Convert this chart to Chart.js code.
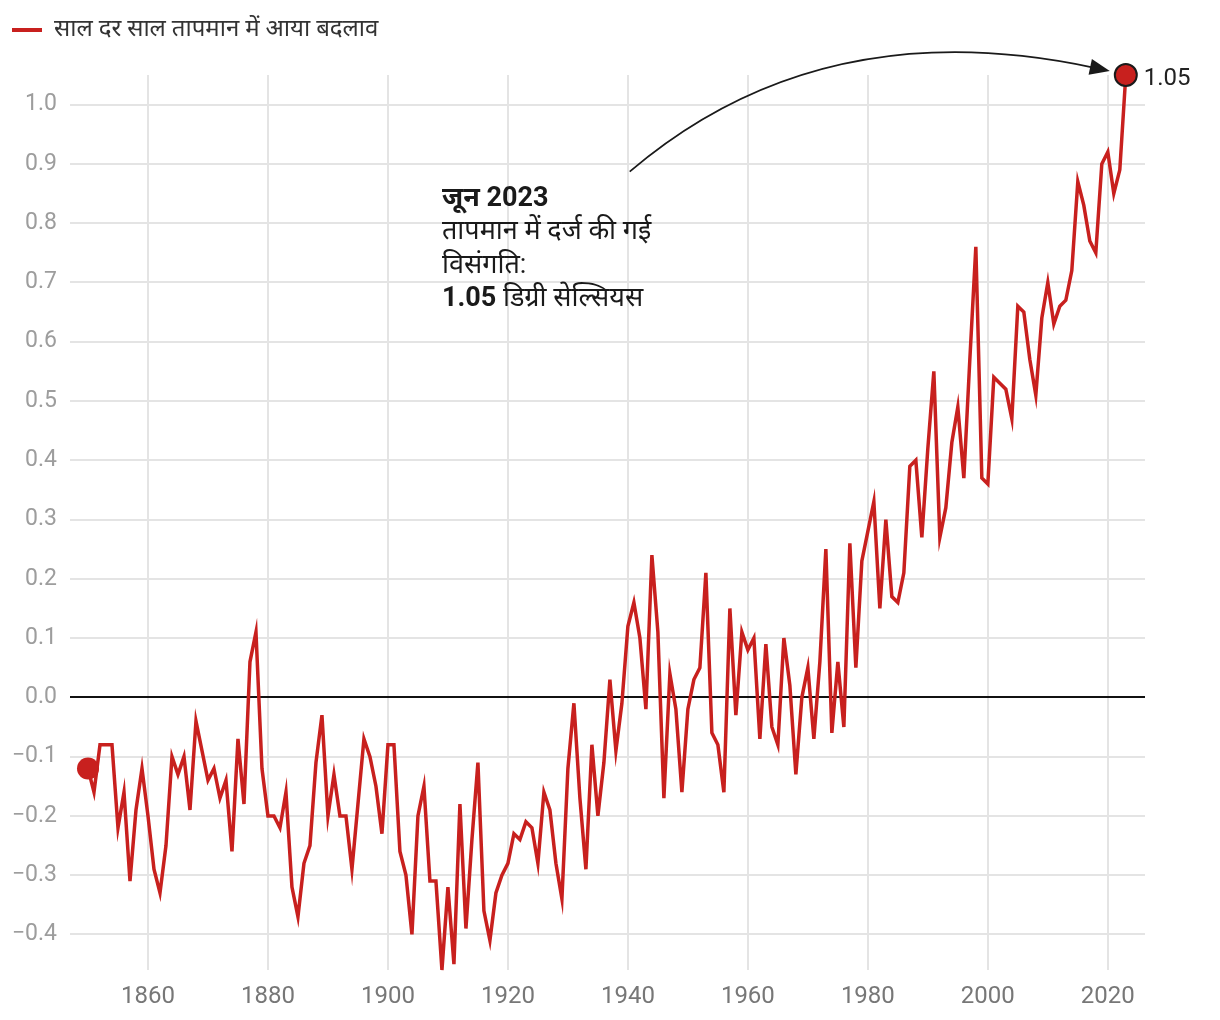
<!DOCTYPE html>
<html>
<head>
<meta charset="utf-8">
<script src="https://cdn.jsdelivr.net/npm/chart.js@4.4.1/dist/chart.umd.min.js"></script>
<style>
html,body{margin:0;padding:0;background:#fff;}
#wrap{width:1220px;height:1020px;position:relative;}
</style>
</head>
<body>
<div id="wrap"><canvas id="c" width="1220" height="1020"></canvas></div>
<script>
// ---------- DATA ----------
const years = [
  1850,1851,1852,1853,1854,1855,1856,1857,1858,1859,
  1860,1861,1862,1863,1864,1865,1866,1867,1868,1869,
  1870,1871,1872,1873,1874,1875,1876,1877,1878,1879,
  1880,1881,1882,1883,1884,1885,1886,1887,1888,1889,
  1890,1891,1892,1893,1894,1895,1896,1897,1898,1899,
  1900,1901,1902,1903,1904,1905,1906,1907,1908,1909,
  1910,1911,1912,1913,1914,1915,1916,1917,1918,1919,
  1920,1921,1922,1923,1924,1925,1926,1927,1928,1929,
  1930,1931,1932,1933,1934,1935,1936,1937,1938,1939,
  1940,1941,1942,1943,1944,1945,1946,1947,1948,1949,
  1950,1951,1952,1953,1954,1955,1956,1957,1958,1959,
  1960,1961,1962,1963,1964,1965,1966,1967,1968,1969,
  1970,1971,1972,1973,1974,1975,1976,1977,1978,1979,
  1980,1981,1982,1983,1984,1985,1986,1987,1988,1989,
  1990,1991,1992,1993,1994,1995,1996,1997,1998,1999,
  2000,2001,2002,2003,2004,2005,2006,2007,2008,2009,
  2010,2011,2012,2013,2014,2015,2016,2017,2018,2019,
  2020,2021,2022,2023
];
const anomaly = [
  -0.12,-0.16,-0.08,-0.08,-0.08,-0.22,-0.16,-0.31,-0.19,-0.12,
  -0.20,-0.29,-0.33,-0.25,-0.10,-0.13,-0.10,-0.19,-0.04,-0.09,
  -0.14,-0.12,-0.17,-0.14,-0.26,-0.07,-0.18, 0.06, 0.11,-0.12,
  -0.20,-0.20,-0.22,-0.16,-0.32,-0.37,-0.28,-0.25,-0.11,-0.03,
  -0.20,-0.13,-0.20,-0.20,-0.29,-0.18,-0.07,-0.10,-0.15,-0.23,
  -0.08,-0.08,-0.26,-0.30,-0.40,-0.20,-0.15,-0.31,-0.31,-0.46,
  -0.32,-0.45,-0.18,-0.39,-0.24,-0.11,-0.36,-0.41,-0.33,-0.30,
  -0.28,-0.23,-0.24,-0.21,-0.22,-0.28,-0.16,-0.19,-0.28,-0.34,
  -0.12,-0.01,-0.17,-0.29,-0.08,-0.20,-0.11, 0.03,-0.09,-0.01,
   0.12, 0.16, 0.10,-0.02, 0.24, 0.11,-0.17, 0.04,-0.02,-0.16,
  -0.02, 0.03, 0.05, 0.21,-0.06,-0.08,-0.16, 0.15,-0.03, 0.11,
   0.08, 0.10,-0.07, 0.09,-0.05,-0.08, 0.10, 0.02,-0.13, 0.00,
   0.05,-0.07, 0.06, 0.25,-0.06, 0.06,-0.05, 0.26, 0.05, 0.23,
   0.28, 0.33, 0.15, 0.30, 0.17, 0.16, 0.21, 0.39, 0.40, 0.27,
   0.42, 0.55, 0.27, 0.32, 0.43, 0.49, 0.37, 0.57, 0.76, 0.37,
   0.36, 0.54, 0.53, 0.52, 0.47, 0.66, 0.65, 0.57, 0.51, 0.64,
   0.70, 0.63, 0.66, 0.67, 0.72, 0.87, 0.83, 0.77, 0.75, 0.90,
   0.92, 0.85, 0.89, 1.05
];
const seriesLabel = 'साल दर साल तापमान में आया बदलाव';
const xTickStep = 20;
const yTickStep = 0.1;
const noteTitle = 'जून 2023';
const noteBody = ['तापमान में दर्ज की गई', 'विसंगति:'];
const noteValue = '1.05';
const noteUnit = ' डिग्री सेल्सियस';

// ---------- STYLE ----------
const FONT = "Roboto, 'Noto Sans', sans-serif";
const RED = '#c8201e';
const GRID = '#e4e4e4';
const last = anomaly.length - 1;

const fixLegendHeight = {
  id: 'fixLegendHeight',
  beforeInit(chart) {
    const lg = chart.legend;
    if (!lg) return;
    const orig = lg.fit.bind(lg);
    lg.fit = function () { orig(); this.height = 69; };
  }
};

const notePlugin = {
  id: 'notePlugin',
  afterDatasetsDraw(chart) {
    const { ctx, scales: { x, y } } = chart;
    const P = (a, b) => [x.getPixelForValue(a), y.getPixelForValue(b)];
    const [ex, ey] = P(years[last], anomaly[last]);
    ctx.save();

    // curved arrow pointing at the latest value
    const [sx, sy] = P(1940.3, 0.887);
    const [cx, cy] = P(1972, 1.1605);
    const tx = ex - 16, ty = ey - 4;
    const ang = Math.atan2(ty - cy, tx - cx);
    const headLen = 20, headHalf = 8;
    const bx = tx - headLen * Math.cos(ang), by = ty - headLen * Math.sin(ang);
    ctx.strokeStyle = '#1a1a1a';
    ctx.lineWidth = 1.8;
    ctx.beginPath();
    ctx.moveTo(sx, sy);
    ctx.quadraticCurveTo(cx, cy, bx + 2 * Math.cos(ang), by + 2 * Math.sin(ang));
    ctx.stroke();
    ctx.fillStyle = '#1a1a1a';
    ctx.beginPath();
    ctx.moveTo(tx, ty);
    ctx.lineTo(bx + headHalf * Math.sin(ang), by - headHalf * Math.cos(ang));
    ctx.lineTo(bx - headHalf * Math.sin(ang), by + headHalf * Math.cos(ang));
    ctx.closePath();
    ctx.fill();

    // value label next to last point
    ctx.font = `400 24px ${FONT}`;
    ctx.fillStyle = '#222';
    ctx.textAlign = 'left';
    ctx.textBaseline = 'middle';
    ctx.fillText(noteValue, ex + 18, ey + 4);

    // note text block
    const [nx, ny] = P(1909, 0.829);
    const lh = 33.3;
    ctx.textBaseline = 'alphabetic';
    ctx.fillStyle = '#1a1a1a';
    ctx.font = `700 27px ${FONT}`;
    ctx.fillText(noteTitle, nx, ny);
    ctx.font = `400 27px ${FONT}`;
    noteBody.forEach((t, i) => ctx.fillText(t, nx, ny + lh * (i + 1)));
    ctx.font = `700 27px ${FONT}`;
    ctx.fillText(noteValue, nx, ny + lh * 3);
    const w = ctx.measureText(noteValue).width;
    ctx.font = `400 27px ${FONT}`;
    ctx.fillText(noteUnit, nx + w, ny + lh * 3);
    ctx.restore();
  }
};

new Chart(document.getElementById('c'), {
  type: 'line',
  data: {
    datasets: [{
      label: seriesLabel,
      data: years.map((yr, i) => ({ x: yr, y: anomaly[i] })),
      borderColor: RED,
      backgroundColor: RED,
      borderWidth: 3.5,
      tension: 0,
      clip: false,
      pointRadius: c => (c.dataIndex === 0 || c.dataIndex === last) ? 11 : 0,
      pointBackgroundColor: RED,
      pointBorderColor: c => c.dataIndex === last ? '#1a1a1a' : RED,
      pointBorderWidth: c => c.dataIndex === last ? 2 : 0,
      pointHoverRadius: 0
    }]
  },
  options: {
    responsive: false,
    animation: false,
    events: [],
    layout: { padding: { top: 6, right: 75, left: 0, bottom: 0 } },
    plugins: {
      legend: {
        position: 'top',
        align: 'start',
        labels: {
          boxWidth: 30,
          boxHeight: 4,
          padding: 12,
          color: '#333',
          font: { family: FONT, size: 24 },
          generateLabels: (chart) => Chart.defaults.plugins.legend.labels.generateLabels(chart)
            .map(it => Object.assign(it, { lineWidth: 0, fillStyle: RED }))
        }
      },
      tooltip: { enabled: false }
    },
    scales: {
      x: {
        type: 'linear',
        min: 1847,
        max: 2026.2,
        afterFit: s => { s.height = 50; },
        border: { display: false },
        grid: { color: GRID, lineWidth: 2, drawTicks: false },
        ticks: {
          stepSize: xTickStep,
          includeBounds: false,
          padding: 13,
          color: '#777',
          font: { family: FONT, size: 24 },
          maxRotation: 0,
          autoSkip: false,
          callback: v => String(v)
        }
      },
      y: {
        min: -0.46,
        max: 1.05,
        afterFit: s => { s.width = 70; },
        border: { display: false },
        grid: {
          color: c => (c.tick && Math.abs(c.tick.value) < 1e-9) ? '#111' : GRID,
          lineWidth: 2,
          drawTicks: false
        },
        ticks: {
          stepSize: yTickStep,
          includeBounds: false,
          padding: 13,
          color: '#9d9d9d',
          font: { family: FONT, size: 23 },
          callback: v => (Math.round(v * 10) / 10).toFixed(1).replace('-', '\u2212')
        }
      }
    }
  },
  plugins: [fixLegendHeight, notePlugin]
});
</script>
</body>
</html>
